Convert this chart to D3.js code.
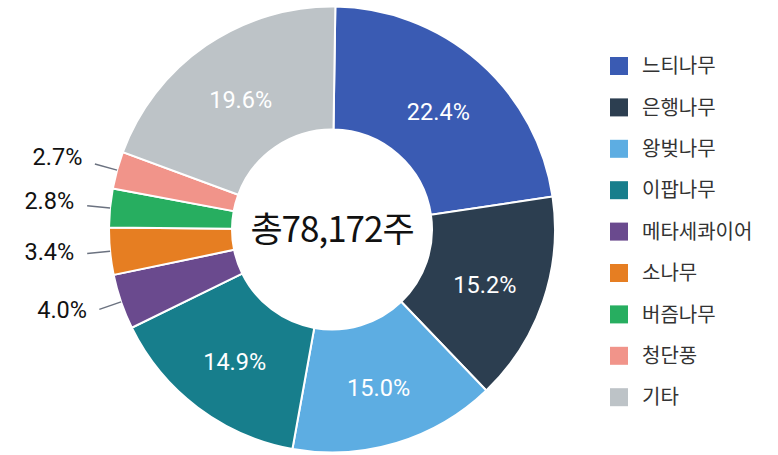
<!DOCTYPE html>
<html>
<head>
<meta charset="utf-8">
<script src="https://cdn.jsdelivr.net/npm/d3@7"></script>
<style>
  body { margin: 0; background: #fff; }
  svg { display: block; font-family: Roboto, "Noto Sans CJK KR", sans-serif; }
</style>
</head>
<body>
<div id="wrapper"></div>
<script>
const species = ["느티나무", "은행나무", "왕벚나무", "이팝나무", "메타세콰이어", "소나무", "버즘나무", "청단풍", "기타"];
const shares = [22.4, 15.2, 15.0, 14.9, 4.0, 3.4, 2.8, 2.7, 19.6];
const colors = ["#3a5bb3", "#2c3e50", "#5dade2", "#177e8c", "#6a4a8e", "#e67e22", "#27ae60", "#f1948a", "#bdc3c7"];
const totalLabel = "총78,172주";

function drawDonut()
{
  const dimensions = {
    width: 778,
    height: 455,
    cx: 332,
    cy: 229.5,
    outer: 223,
    inner: 100
  };

  const data = species.map((name, i) => ({name: name, value: shares[i], color: colors[i]}));

  const wrapper = d3.select("#wrapper")
    .append("svg")
      .attr("width", dimensions.width)
      .attr("height", dimensions.height);

  const bounds = wrapper.append("g")
    .attr("transform", `translate(${dimensions.cx}, ${dimensions.cy})`);

  const offset = 0.015;
  const pie = d3.pie()
    .sort(null)
    .startAngle(offset)
    .endAngle(2 * Math.PI + offset)
    .value(d => d.value);

  const arc = d3.arc()
    .innerRadius(dimensions.inner)
    .outerRadius(dimensions.outer);

  const arcs = pie(data);

  bounds.selectAll("path")
    .data(arcs)
    .join("path")
      .attr("d", arc)
      .attr("fill", d => d.data.color)
      .attr("stroke", "#fff")
      .attr("stroke-width", 2);

  // labels: big slices inside, small slices outside with a line
  const big = arcs.filter(d => d.data.value >= 10);
  const small = arcs.filter(d => d.data.value < 10);

  bounds.selectAll(".inlabel")
    .data(big)
    .join("text")
      .attr("class", "inlabel")
      .attr("transform", d => `translate(${arc.centroid(d)})`)
      .attr("text-anchor", "middle")
      .attr("dy", "0.5em")
      .attr("fill", "#fff")
      .style("font-size", "23.5px")
      .text(d => d.data.value.toFixed(1) + "%");

  const pointAt = (d, r) => {
    const a = (d.startAngle + d.endAngle) / 2;
    return [r * Math.sin(a), -r * Math.cos(a)];
  };

  bounds.selectAll(".leader")
    .data(small)
    .join("line")
      .attr("class", "leader")
      .attr("x1", d => pointAt(d, dimensions.outer)[0])
      .attr("y1", d => pointAt(d, dimensions.outer)[1])
      .attr("x2", d => pointAt(d, dimensions.outer + 23)[0])
      .attr("y2", d => pointAt(d, dimensions.outer + 23)[1])
      .attr("stroke", "#6b7280")
      .attr("stroke-width", 1.5);

  bounds.selectAll(".outlabel")
    .data(small)
    .join("text")
      .attr("class", "outlabel")
      .attr("x", d => pointAt(d, dimensions.outer + 36)[0])
      .attr("y", d => pointAt(d, dimensions.outer + 36)[1])
      .attr("text-anchor", "end")
      .attr("dy", "0.2em")
      .attr("fill", "#111")
      .style("font-size", "23.5px")
      .text(d => d.data.value.toFixed(1) + "%");

  bounds.append("text")
    .attr("text-anchor", "middle")
    .attr("dy", "0.36em")
    .attr("fill", "#111")
    .style("font-family", "'Noto Sans CJK KR', sans-serif")
    .style("font-size", "35px")
    .style("letter-spacing", "-1px")
    .text(totalLabel);

  // legend
  const legend = wrapper.append("g")
    .attr("transform", "translate(610, 57)");

  const rows = legend.selectAll("g")
    .data(data)
    .join("g")
      .attr("transform", (d, i) => `translate(0, ${i * 41.4})`);

  rows.append("rect")
    .attr("width", 18)
    .attr("height", 18)
    .attr("fill", d => d.color);

  rows.append("text")
    .attr("x", 32)
    .attr("y", 9)
    .attr("dy", "0.36em")
    .attr("fill", "#333")
    .style("font-family", "'Noto Sans CJK KR', sans-serif")
    .style("font-size", "20px")
    .text(d => d.name);
}

drawDonut();
</script>
</body>
</html>
